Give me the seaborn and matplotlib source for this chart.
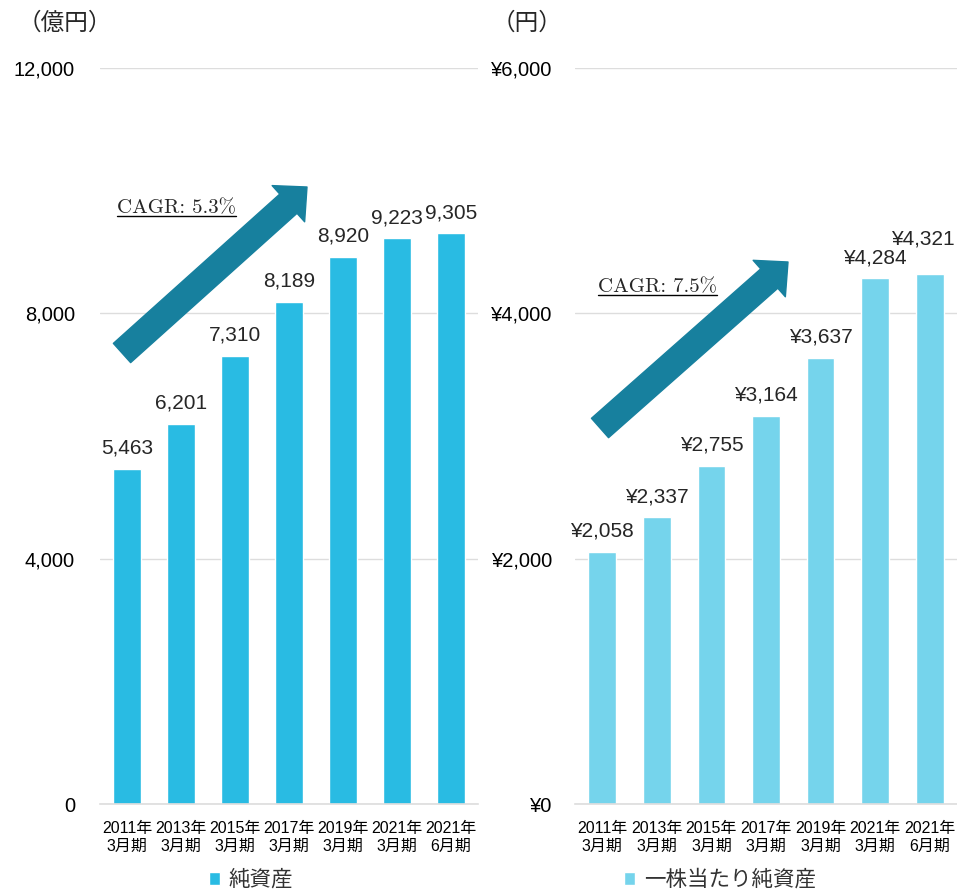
import matplotlib
matplotlib.use("Agg")
import matplotlib.pyplot as plt
import seaborn as sns
import pandas as pd
from matplotlib.ticker import FuncFormatter
from matplotlib.lines import Line2D

# data
periods = ["2011年\n3月期", "2013年\n3月期", "2015年\n3月期", "2017年\n3月期",
           "2019年\n3月期", "2021年\n3月期", "2021年\n6月期"]
net_assets = [5463, 6201, 7310, 8189, 8920, 9223, 9305]          # 億円
net_assets_per_share = [2058, 2337, 2755, 3164, 3637, 4284, 4321]  # 円
left_ticks = [0, 4000, 8000, 12000]
right_ticks = [0, 2000, 4000, 6000]
cagr_left = "5.3"
cagr_right = "7.5"

sns.set_style("white")
plt.rcParams['font.family'] = ['Liberation Sans', 'Noto Sans CJK JP', 'DejaVu Sans']

c_left = "#29BBE3"
c_right = "#75D4EC"
c_arrow = "#17809E"
c_grid = "#DDDDDD"

fig = plt.figure(figsize=(9.57, 8.92), dpi=100)
ax1 = fig.add_axes([100 / 957, 88 / 892, 378 / 957, 736 / 892])
ax2 = fig.add_axes([575 / 957, 88 / 892, 382 / 957, 736 / 892])

df1 = pd.DataFrame({'period': periods, 'value': net_assets, 's': '純資産'})
df2 = pd.DataFrame({'period': periods, 'value': net_assets_per_share, 's': '一株当たり純資産'})

sns.barplot(data=df1, x='period', y='value', hue='s', palette=[c_left],
            width=0.52, ax=ax1, saturation=1)
sns.barplot(data=df2, x='period', y='value', hue='s', palette=[c_right],
            width=0.51, ax=ax2, saturation=1)


def style_axis(ax, ticks, fmt, pad):
    ax.set_ylim(ticks[0], ticks[-1])
    ax.set_xlim(-0.5, 6.5)
    ax.set_yticks(ticks)
    ax.yaxis.set_major_formatter(FuncFormatter(fmt))
    ax.grid(axis='y', color=c_grid, linewidth=1)
    ax.set_axisbelow(True)
    for s in ['left', 'right', 'top']:
        ax.spines[s].set_visible(False)
    ax.spines['bottom'].set_color(c_grid)
    ax.spines['bottom'].set_linewidth(1.2)
    ax.tick_params(axis='y', length=0, pad=pad, labelsize=14.5, colors='black')
    ax.tick_params(axis='x', length=0, pad=12, labelsize=11.5, colors='black')
    for lbl in ax.get_xticklabels():
        lbl.set_linespacing(1.3)
    ax.set_xlabel('')
    ax.set_ylabel('')


style_axis(ax1, left_ticks, lambda v, p: f"{v:,.0f}", 18)
style_axis(ax2, right_ticks, lambda v, p: f"¥{v:,.0f}", 16)

# value labels
for i, v in enumerate(net_assets):
    ax1.annotate(f"{v:,}", (i, v), xytext=(0, 8), textcoords='offset points',
                 ha='center', va='bottom', fontsize=15)
for i, v in enumerate(net_assets_per_share):
    last = i == len(net_assets_per_share) - 1
    ax2.annotate(f"¥{v:,}", (i, v), xytext=(-5 if last else 0, 18 if last else 8),
                 textcoords='offset points', ha='center', va='bottom', fontsize=15)

# CAGR arrows
arrow_style = "simple,head_length=0.9,head_width=1.75,tail_width=0.93"
for tail, tip in [((122, 539), (307, 705)), ((600, 464), (788, 630))]:
    fig.patches.append(matplotlib.patches.FancyArrowPatch(
        posA=tail, posB=tip, transform=None, arrowstyle=arrow_style,
        mutation_scale=20, color=c_arrow, shrinkA=0, shrinkB=0, zorder=5))

cagr_texts = []
for x, y, val in [(117, 208, cagr_left), (598, 287, cagr_right)]:
    t = fig.text(x / 957, 1 - y / 892, f"CAGR: {val}%", family='cmr10',
                 fontsize=15, va='center', ha='left')
    cagr_texts.append(t)

# unit labels
fig.text(18 / 957, 1 - 23 / 892, "（億円）", fontsize=17, va='center', ha='left')
fig.text(492 / 957, 1 - 23 / 892, "（円）", fontsize=17, va='center', ha='left')

# legends below each panel
ax1.legend(loc='center', bbox_to_anchor=(0.4, -0.104), frameon=False, fontsize=15.5,
           handlelength=0.5, handleheight=0.5, handletextpad=0.4, labelcolor='#333333')
ax2.legend(loc='center', bbox_to_anchor=(0.38, -0.104), frameon=False, fontsize=15.5,
           handlelength=0.5, handleheight=0.5, handletextpad=0.4, labelcolor='#333333')

# underline the CAGR texts
fig.canvas.draw()
renderer = fig.canvas.get_renderer()
for t in cagr_texts:
    bb = t.get_window_extent(renderer)
    fig.lines.append(Line2D([bb.x0, bb.x1], [bb.y0 + 1, bb.y0 + 1], transform=None,
                            color='black', linewidth=1))

fig.savefig("out.png", dpi=100)
